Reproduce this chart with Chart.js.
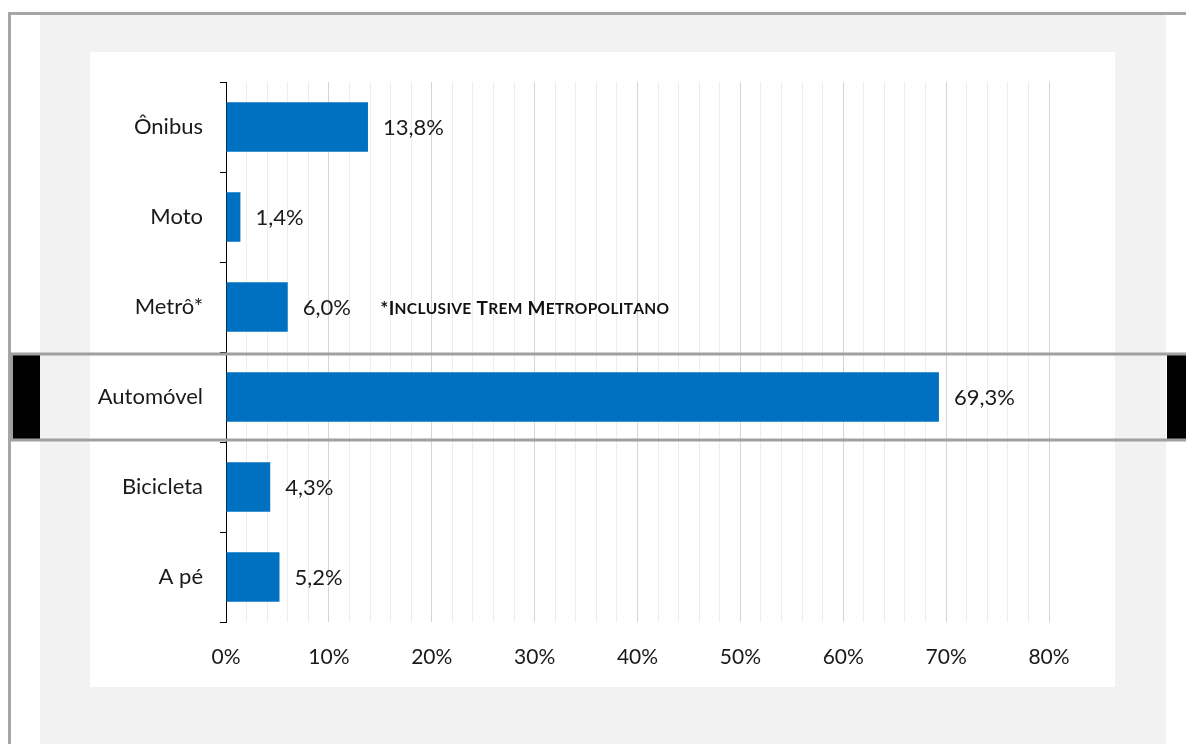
<!DOCTYPE html>
<html>
<head>
<meta charset="utf-8">
<script src="https://cdn.jsdelivr.net/npm/chart.js@4.4.0/dist/chart.umd.min.js"></script>
<style>
  body { margin: 0; background: #fff; }
  canvas { display: block; }
</style>
</head>
<body>
<canvas id="grafico" width="1186" height="744"></canvas>
<script>
// Dados (divisão modal)
const categorias = ['Ônibus', 'Moto', 'Metrô*', 'Automóvel', 'Bicicleta', 'A pé'];
const percentuais = [13.8, 1.4, 6.0, 69.3, 4.3, 5.2];
const eixoMax = 80;
const passoGrade = 2;
const passoRotulo = 10;
const notaRodape = '*Inclusive Trem Metropolitano';
const notaPosicao = 15;       // valor do eixo x onde começa a nota
const indiceDestaque = 3;     // Automóvel

const fonte = 'Lato, "Open Sans", sans-serif';
const corTexto = '#1a1a1a';

function formata(v) {
    return v.toFixed(1).replace('.', ',') + '%';
}

// Fundo: moldura cinza, painel cinza claro e área branca
const fundo = {
    id: 'fundo',
    beforeDraw(chart) {
        const ctx = chart.ctx;
        ctx.save();
        ctx.fillStyle = '#ffffff';
        ctx.fillRect(0, 0, chart.width, chart.height);
        ctx.fillStyle = '#f2f2f2';
        ctx.fillRect(40, 15, 1126, chart.height - 15);
        ctx.fillStyle = '#ffffff';
        ctx.fillRect(90, 52, 1025, 635);
        ctx.strokeStyle = '#a6a6a6';
        ctx.lineWidth = 3;
        ctx.beginPath();
        ctx.moveTo(9.5, chart.height);
        ctx.lineTo(9.5, 13.5);
        ctx.lineTo(chart.width, 13.5);
        ctx.stroke();
        ctx.restore();
    }
};

// Rótulos de valor e nota de rodapé
const rotulos = {
    id: 'rotulos',
    afterDatasetsDraw(chart) {
        const ctx = chart.ctx;
        const meta = chart.getDatasetMeta(0);
        ctx.save();
        ctx.fillStyle = corTexto;
        ctx.textBaseline = 'middle';
        ctx.textAlign = 'left';
        ctx.font = '22px ' + fonte;
        meta.data.forEach((barra, i) => {
            ctx.fillText(formata(percentuais[i]), barra.x + 15, barra.y + 1);
        });

        // nota em versalete
        const barraMetro = meta.data[2];
        let x = chart.scales.x.getPixelForValue(notaPosicao);
        const y = barraMetro.y + 2;
        ctx.fillStyle = '#111';
        for (const ch of notaRodape) {
            const grande = ch === '*' || ch === ' ' || (ch === ch.toUpperCase() && ch !== ch.toLowerCase());
            ctx.font = (grande ? 'bold 19px ' : 'bold 15.5px ') + fonte;
            const c = ch.toUpperCase();
            ctx.fillText(c, x, y);
            x += ctx.measureText(c).width + 0.3;
        }
        ctx.restore();
    }
};

// Destaque da linha Automóvel
const destaque = {
    id: 'destaque',
    afterDraw(chart) {
        const ctx = chart.ctx;
        const yScale = chart.scales.y;
        const meio = yScale.getPixelForValue(indiceDestaque);
        const meiaAltura = (yScale.getPixelForValue(1) - yScale.getPixelForValue(0)) / 2 - 2;
        const topo = meio - meiaAltura;
        const base = meio + meiaAltura;
        ctx.save();
        ctx.fillStyle = '#000';
        ctx.fillRect(12, topo, 28, base - topo);
        ctx.fillRect(1167, topo, 30, base - topo);
        ctx.strokeStyle = '#a0a0a0';
        ctx.lineWidth = 3;
        ctx.strokeRect(11.5, topo, chart.width + 10, base - topo);
        ctx.restore();
    }
};

const config = {
    type: 'bar',
    data: {
        labels: categorias,
        datasets: [{
            data: percentuais,
            backgroundColor: '#0070c0',
            borderWidth: 0,
            barPercentage: 0.55,
            categoryPercentage: 1
        }]
    },
    options: {
        indexAxis: 'y',
        responsive: false,
        animation: false,
        layout: { padding: { left: 90, right: 137, top: 82, bottom: 62 } },
        plugins: {
            legend: { display: false },
            tooltip: { enabled: false }
        },
        scales: {
            x: {
                min: 0,
                max: eixoMax,
                afterFit(scale) { scale.height = 60; },
                ticks: {
                    stepSize: passoGrade,
                    autoSkip: false,
                    maxRotation: 0,
                    padding: 23,
                    color: corTexto,
                    font: { family: fonte, size: 21 },
                    callback: v => (v % passoRotulo === 0 ? v + '%' : '')
                },
                grid: {
                    drawTicks: false,
                    color: ctx => (ctx.tick && ctx.tick.value % passoRotulo === 0 ? '#d4d4d4' : '#ededed'),
                    lineWidth: 1
                },
                border: { display: false }
            },
            y: {
                afterFit(scale) { scale.width = 136; },
                ticks: {
                    padding: 17,
                    color: corTexto,
                    font: { family: fonte, size: 22 }
                },
                grid: {
                    drawOnChartArea: false,
                    color: '#000',
                    tickLength: 6,
                    offset: true
                },
                border: { display: true, color: '#000', width: 1 }
            }
        }
    },
    plugins: [fundo, rotulos, destaque]
};

new Chart(document.getElementById('grafico'), config);
</script>
</body>
</html>
